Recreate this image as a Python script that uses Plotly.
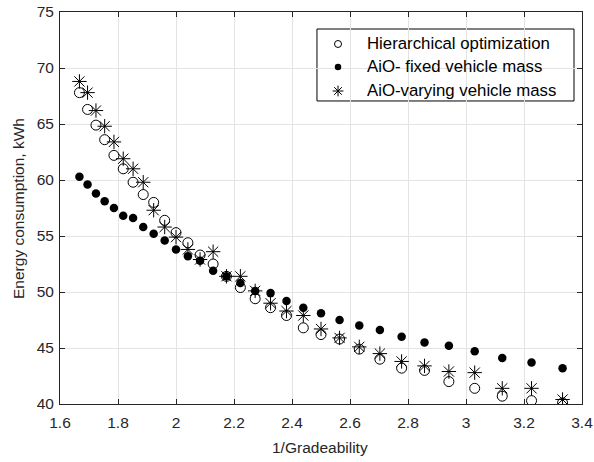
import plotly.graph_objects as go

inv_gradeability = [1.667, 1.695, 1.724, 1.754, 1.786, 1.818, 1.852, 1.887, 1.923, 1.961,
                    2.000, 2.041, 2.083, 2.128, 2.174, 2.222, 2.273, 2.326, 2.381, 2.439,
                    2.500, 2.564, 2.632, 2.703, 2.778, 2.857, 2.941, 3.030, 3.125, 3.226, 3.333]

hierarchical = [67.8, 66.3, 64.9, 63.6, 62.2, 61.0, 59.8, 58.7, 58.0, 56.4,
                55.3, 54.4, 53.3, 52.5, 51.4, 50.4, 49.4, 48.6, 47.9, 46.8,
                46.2, 45.8, 44.9, 44.0, 43.2, 43.0, 42.0, 41.4, 40.7, 40.3, 40.1]

aio_fixed = [60.3, 59.6, 58.8, 58.1, 57.5, 56.8, 56.6, 55.8, 55.2, 54.6,
             53.8, 53.2, 52.8, 51.9, 51.4, 50.8, 50.1, 49.9, 49.2, 48.6,
             48.1, 47.5, 47.0, 46.6, 46.0, 45.5, 45.2, 44.7, 44.1, 43.7, 43.2]

aio_varying = [68.8, 67.8, 66.2, 64.8, 63.4, 61.9, 61.0, 59.8, 57.3, 55.8,
               54.9, 53.8, 52.9, 53.6, 51.4, 51.4, 50.1, 49.0, 48.3, 47.9,
               46.7, 45.9, 45.1, 44.5, 43.8, 43.4, 42.9, 42.8, 41.4, 41.4, 40.4]

series_names = ["Hierarchical optimization", "AiO- fixed vehicle mass", "AiO-varying vehicle mass"]
x_title = "1/Gradeability"
y_title = "Energy consumption, kWh"

x_ticks = [1.6, 1.8, 2.0, 2.2, 2.4, 2.6, 2.8, 3.0, 3.2, 3.4]
x_tick_labels = ["1.6", "1.8", "2", "2.2", "2.4", "2.6", "2.8", "3", "3.2", "3.4"]
y_ticks = [40, 45, 50, 55, 60, 65, 70, 75]

FONT = "Liberation Sans, Arial, sans-serif"
AX = "#262626"

markers = [
    dict(symbol="circle-open", color="black", line=dict(width=1, color="black")),
    dict(symbol="circle", color="black", line=dict(width=0)),
    dict(symbol="asterisk-open", color="black", line=dict(width=1, color="black")),
]
plot_sizes = [10, 8.5, 12]
legend_sizes = [7, 6.5, 9]
values = [hierarchical, aio_fixed, aio_varying]

fig = go.Figure()
for name, vals, mk, ps in zip(series_names, values, markers, plot_sizes):
    fig.add_trace(go.Scatter(x=inv_gradeability, y=vals, mode="markers", name=name,
                             showlegend=False, marker=dict(size=ps, **mk)))

# MATLAB-style legend box drawn in plot-fraction coordinates (overlay axes 0..1)
leg_box = dict(x0=0.4923, x1=0.9847, y0=0.7730, y1=0.9566)
leg_rows_y = [0.9184, 0.8597, 0.7985]
leg_marker_x = 0.5326
leg_text_x = 0.5843

for name, mk, ls, ry in zip(series_names, markers, legend_sizes, leg_rows_y):
    fig.add_trace(go.Scatter(x=[leg_marker_x], y=[ry], xaxis="x2", yaxis="y2", mode="markers",
                             showlegend=False, hoverinfo="skip", marker=dict(size=ls, **mk)))
    fig.add_annotation(x=leg_text_x, y=ry, xref="paper", yref="paper", text=name,
                       showarrow=False, xanchor="left", yanchor="middle",
                       font=dict(family=FONT, size=16.8, color="black"))

fig.add_shape(type="rect", xref="paper", yref="paper", layer="between",
              fillcolor="white", line=dict(color="black", width=1), **leg_box)

# axis titles
fig.add_annotation(x=0.498, y=-0.1122, xref="paper", yref="paper", text=x_title,
                   showarrow=False, xanchor="center", yanchor="middle",
                   font=dict(family=FONT, size=15.5, color=AX))
fig.add_annotation(x=-0.0805, y=0.5, xref="paper", yref="paper", text=y_title,
                   showarrow=False, xanchor="center", yanchor="middle", textangle=-90,
                   font=dict(family=FONT, size=15.5, color=AX))

axis_common = dict(
    showline=True, linecolor=AX, linewidth=1, mirror="ticks",
    ticks="inside", ticklen=5, tickcolor=AX, tickwidth=1,
    showgrid=True, gridcolor="#e3e3e3", gridwidth=1, zeroline=False,
    tickfont=dict(family=FONT, size=15.5, color=AX), automargin=False,
)

fig.update_xaxes(range=[1.6, 3.4], tickvals=x_ticks, ticktext=x_tick_labels,
                 ticklabelstandoff=4, **axis_common)
fig.update_yaxes(range=[40, 75], tickvals=y_ticks, ticklabelstandoff=2, **axis_common)

fig.update_layout(
    width=594, height=462,
    margin=dict(l=60, r=12, t=12, b=58),
    paper_bgcolor="white", plot_bgcolor="white",
    font=dict(family=FONT, size=15.5, color="black"),
    showlegend=False,
    xaxis2=dict(overlaying="x", range=[0, 1], visible=False, fixedrange=True),
    yaxis2=dict(overlaying="y", range=[0, 1], visible=False, fixedrange=True),
)

fig.write_html("out.html", config={"displayModeBar": False},
               post_script="document.body.style.margin='0';")
